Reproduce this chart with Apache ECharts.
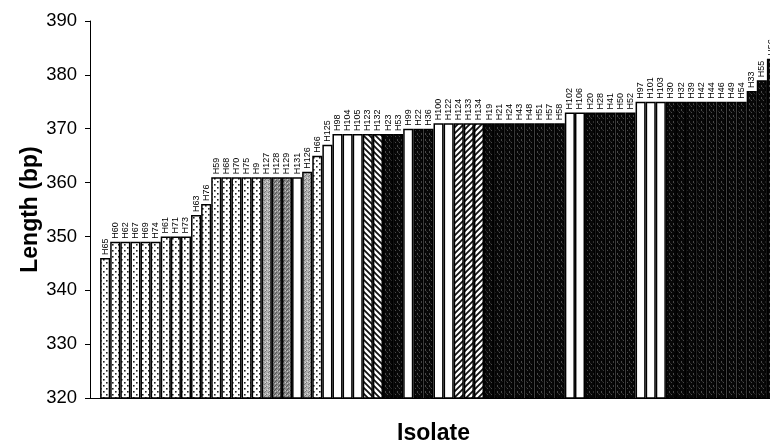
<!DOCTYPE html>
<html>
<head>
<meta charset="utf-8">
<script src="https://cdn.jsdelivr.net/npm/echarts@6/dist/echarts.min.js"></script>
<style>html,body{margin:0;padding:0;background:#fff}#c{width:770px;height:443px}</style>
</head>
<body>
<div id="c"></div>
<script>
const isolates = ['', 'H65','H60','H62','H67','H69','H74','H61','H71','H73','H63','H76',
  'H59','H68','H70','H75','H9','H127','H128','H129','H131','H126','H66','H125',
  'H98','H104','H105','H123','H132','H23','H53','H99','H22','H36','H100','H122',
  'H124','H133','H134','H19','H21','H24','H43','H48','H51','H57','H58','H102','H106',
  'H20','H28','H41','H50','H52','H97','H101','H103','H30','H32','H39','H42','H44',
  'H46','H49','H54','H33','H55','H56'];
const lengths = ['-', 346, 349,349,349,349,349, 350,350,350, 354, 356,
  361,361,361,361,361, 361,361,361,361, 362, 365, 367,
  369,369,369, 369,369, 369,369, 370, 370,370, 371,371,
  371,371,371, 371,371,371,371,371,371,371,371, 373,373,
  373,373,373,373,373, 375,375,375, 375,375,375,375,375,
  375,375,375, 377, 379, 383];
const kinds = ['none', 'dot', 'dot','dot','dot','dot','dot', 'dot','dot','dot', 'dot', 'dot',
  'dot','dot','dot','dot','dot', 'gray','gray2','gray2','white', 'gray', 'dot', 'white',
  'white','white','white', 'hatchB','hatchB', 'black','black', 'white', 'black','black', 'white','white',
  'hatchF','hatchF','hatchF', 'black','black','black','black','black','black','black','black', 'white','white',
  'black','black','black','black','black', 'white','white','white', 'black','black','black','black','black',
  'black','black','black', 'black', 'black', 'black'];
const yTicks = [320, 330, 340, 350, 360, 370, 380, 390];

function makePattern(w, h, draw) {
  const cv = document.createElement('canvas');
  cv.width = w; cv.height = h;
  const ctx = cv.getContext('2d');
  draw(ctx, w, h);
  return { image: cv, repeat: 'repeat' };
}
const patterns = {
  white: '#ffffff',
  dot: makePattern(6, 6, (c, w, h) => {
    c.fillStyle = '#fff'; c.fillRect(0, 0, w, h);
    c.fillStyle = '#222'; c.fillRect(1, 1, 1.6, 1.6); c.fillRect(4, 4, 1.6, 1.6);
  }),
  gray: makePattern(4, 4, (c, w, h) => {
    c.fillStyle = '#b0b0b0'; c.fillRect(0, 0, w, h);
    c.fillStyle = '#7a7a7a'; c.fillRect(0, 0, 1, 1); c.fillRect(2, 2, 1, 1); c.fillRect(1, 3, 1, 1);
    c.fillStyle = '#dddddd'; c.fillRect(3, 1, 1, 1); c.fillRect(1, 2, 1, 1);
  }),
  gray2: makePattern(4, 4, (c, w, h) => {
    c.fillStyle = '#8a8a8a'; c.fillRect(0, 0, w, h);
    c.fillStyle = '#555'; c.fillRect(0, 0, 1, 1); c.fillRect(2, 2, 1, 1); c.fillRect(3, 1, 1, 1);
    c.fillStyle = '#c8c8c8'; c.fillRect(1, 2, 1, 1); c.fillRect(3, 3, 1, 1);
  }),
  hatchB: makePattern(6, 6, (c, w, h) => {
    c.fillStyle = '#fff'; c.fillRect(0, 0, w, h);
    c.strokeStyle = '#111'; c.lineWidth = 1.8;
    c.beginPath(); c.moveTo(-1, -1); c.lineTo(w + 1, h + 1);
    c.moveTo(-1, h - 1); c.lineTo(1, h + 1); c.moveTo(w - 1, -1); c.lineTo(w + 1, 1); c.stroke();
  }),
  hatchF: makePattern(6, 6, (c, w, h) => {
    c.fillStyle = '#fff'; c.fillRect(0, 0, w, h);
    c.strokeStyle = '#111'; c.lineWidth = 1.8;
    c.beginPath(); c.moveTo(-1, h + 1); c.lineTo(w + 1, -1);
    c.moveTo(-1, 1); c.lineTo(1, -1); c.moveTo(w - 1, h + 1); c.lineTo(w + 1, h - 1); c.stroke();
  }),
  black: makePattern(4, 6, (c, w, h) => {
    c.fillStyle = '#080808'; c.fillRect(0, 0, w, h);
    c.fillStyle = '#4a4a4a'; c.fillRect(1, 1, 1, 2); c.fillRect(3, 4, 1, 1);
    c.fillStyle = '#2a2a2a'; c.fillRect(2, 3, 1, 1);
  })
};

const barData = lengths.map((v, i) => ({
  value: v,
  itemStyle: { color: patterns[kinds[i]] || '#fff' }
}));

const chart = echarts.init(document.getElementById('c'), null, { renderer: 'canvas' });
chart.setOption({
  animation: false,
  backgroundColor: '#fff',
  textStyle: { fontFamily: 'Liberation Sans, Arial, sans-serif' },
  grid: { left: 90, top: 21, width: 687, height: 377, containLabel: false, outerBoundsMode: 'none' },
  xAxis: {
    type: 'category',
    data: isolates,
    name: 'Isolate',
    nameLocation: 'middle',
    nameGap: 24,
    nameMoveOverlap: false,
    nameTextStyle: { fontSize: 23, fontWeight: 'bold', color: '#000', fontFamily: 'Liberation Sans, Arial, sans-serif' },
    axisLine: { lineStyle: { color: '#000', width: 1 } },
    axisTick: { alignWithLabel: true, length: 4, interval: (i) => i > 0, lineStyle: { color: '#333' } },
    axisLabel: { show: false },
    splitLine: { show: false }
  },
  yAxis: {
    type: 'value',
    min: yTicks[0],
    max: yTicks[yTicks.length - 1],
    interval: 10,
    name: 'Length (bp)',
    nameLocation: 'middle',
    nameGap: 48,
    nameMoveOverlap: false,
    nameTextStyle: { fontSize: 23, fontWeight: 'bold', color: '#000', fontFamily: 'Liberation Sans, Arial, sans-serif' },
    axisLine: { show: true, lineStyle: { color: '#000', width: 1 } },
    axisTick: { show: true, length: 5, lineStyle: { color: '#000' } },
    axisLabel: { fontSize: 18.5, color: '#000', margin: 13 },
    splitLine: { show: false }
  },
  series: [{
    type: 'bar',
    data: barData,
    barCategoryGap: '0%',
    barGap: '0%',
    itemStyle: { borderColor: '#000', borderWidth: 1.5 },
    label: {
      show: true,
      position: 'top',
      rotate: 90,
      align: 'left',
      verticalAlign: 'middle',
      distance: 3,
      fontSize: 9,
      color: '#000',
      formatter: '{b}'
    }
  }]
});
</script>
</body>
</html>
